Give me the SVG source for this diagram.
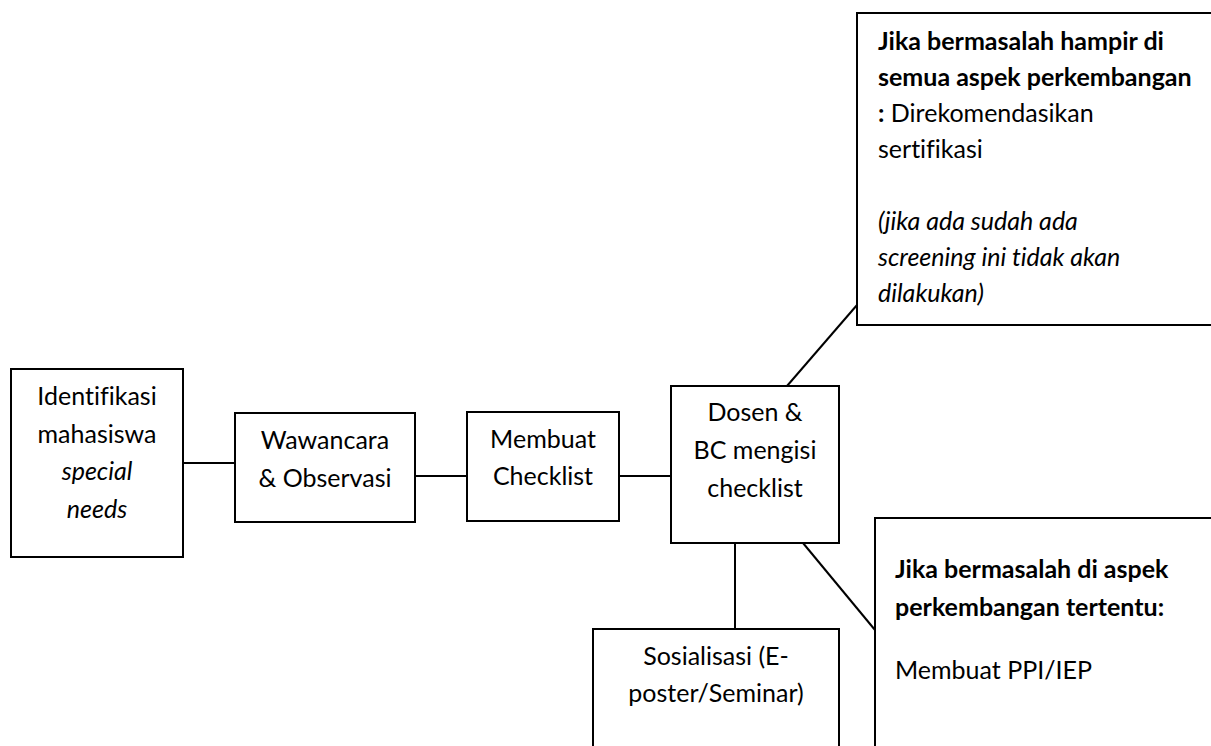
<svg xmlns="http://www.w3.org/2000/svg" width="1211" height="746" viewBox="0 0 1211 746">
<style>
  .box { fill: #ffffff; stroke: #000000; stroke-width: 2; }
  .conn line { stroke: #000000; stroke-width: 2; }
  text { font-family: Lato, "Liberation Sans", sans-serif; font-size: 25px; fill: #000000; font-variant-ligatures: none; font-feature-settings: "liga" 0, "clig" 0; }
  .c { text-anchor: middle; }
  .b { font-weight: bold; }
  .i { font-style: italic; }
</style>
<rect width="1211" height="746" fill="#ffffff"/>
<g id="connectors" class="conn">
  <line x1="183" y1="463" x2="235" y2="463"/>
  <line x1="415" y1="476" x2="467" y2="476"/>
  <line x1="619" y1="476" x2="671" y2="476"/>
  <line x1="735" y1="543" x2="735" y2="629"/>
  <line x1="787" y1="386" x2="857" y2="305"/>
  <line x1="803" y1="543" x2="875" y2="630"/>
</g>
<g id="identifikasi">
  <rect class="box" x="11" y="369" width="172" height="188"/>
  <text class="c" x="97" y="405">Identifikasi</text>
  <text class="c" x="97" y="442.5">mahasiswa</text>
  <text class="c i" x="97" y="480">special</text>
  <text class="c i" x="97" y="517.5">needs</text>
</g>
<g id="wawancara">
  <rect class="box" x="235" y="413" width="180" height="109"/>
  <text class="c" x="325" y="449">Wawancara</text>
  <text class="c" x="325" y="487">&amp; Observasi</text>
</g>
<g id="membuat-checklist">
  <rect class="box" x="467" y="412" width="152" height="109"/>
  <text class="c" x="543" y="448">Membuat</text>
  <text class="c" x="543" y="485">Checklist</text>
</g>
<g id="dosen">
  <rect class="box" x="671" y="386" width="168" height="157"/>
  <text class="c" x="755" y="421">Dosen &amp;</text>
  <text class="c" x="755" y="459">BC mengisi</text>
  <text class="c" x="755" y="497">checklist</text>
</g>
<g id="sosialisasi">
  <rect class="box" x="593" y="629" width="246" height="140"/>
  <text class="c" x="716" y="665">Sosialisasi (E-</text>
  <text class="c" x="716" y="702">poster/Seminar)</text>
</g>
<g id="sertifikasi">
  <rect class="box" x="857" y="13" width="400" height="312"/>
  <text class="b" x="878" y="50">Jika bermasalah hampir di</text>
  <text class="b" x="878" y="86">semua aspek perkembangan</text>
  <text x="878" y="122"><tspan class="b">:</tspan> Direkomendasikan</text>
  <text x="878" y="158">sertifikasi</text>
  <text class="i" x="878" y="230">(jika ada sudah ada</text>
  <text class="i" x="878" y="266">screening ini tidak akan</text>
  <text class="i" x="878" y="302">dilakukan)</text>
</g>
<g id="ppi-iep">
  <rect class="box" x="875" y="518" width="400" height="300"/>
  <text class="b" x="895" y="578">Jika bermasalah di aspek</text>
  <text class="b" x="895" y="616">perkembangan tertentu:</text>
  <text x="895" y="679">Membuat PPI/IEP</text>
</g>
</svg>
